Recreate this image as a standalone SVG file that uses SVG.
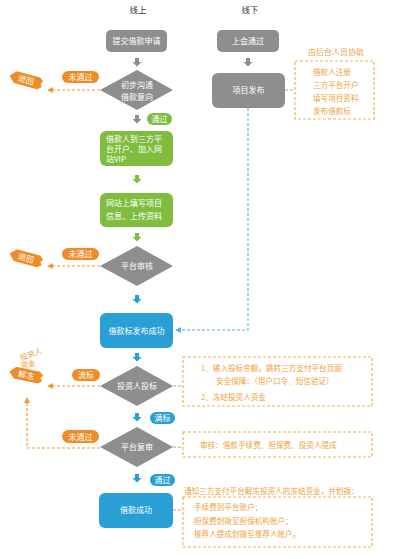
<svg xmlns="http://www.w3.org/2000/svg" width="400" height="559" viewBox="0 0 400 559">
<style>
text{font-family:"Noto Sans CJK SC","Liberation Sans",sans-serif;}
.hd{font-size:8.5px;fill:#333;text-anchor:middle}
.wt{font-size:8px;fill:#fff;text-anchor:middle}
.wl{font-size:8px;fill:#fff}
.ot{font-size:7.6px;fill:#f0a23c}
.gray{fill:#8e8e8e}
.green{fill:#80bd3f}
.blue{fill:#2a9fd6}
.orange{fill:#f08c28}
.obox{fill:none;stroke:#f4b14f;stroke-width:1.2;stroke-dasharray:3 2}
.oline{fill:none;stroke:#f39a35;stroke-width:1.2;stroke-dasharray:3 2}
.bline{fill:none;stroke:#5ab0e0;stroke-width:1.1;stroke-dasharray:3 2}
</style>
<defs>
<path id="barrow" d="M-2,0 H2 V4 H4.5 L0,8.5 L-4.5,4 H-2 Z"/>
<marker id="oa" markerWidth="6" markerHeight="6" refX="5" refY="3" orient="auto" markerUnits="userSpaceOnUse"><path d="M0,0 L6,3 L0,6 Z" fill="#f39a35"/></marker>
<marker id="ba" markerWidth="6" markerHeight="6" refX="5" refY="3" orient="auto" markerUnits="userSpaceOnUse"><path d="M0,0 L6,3 L0,6 Z" fill="#5ab0e0"/></marker>
<path id="tag" d="M-17,0 L-11,-6 H13 L17,-3 L15,0 L17,3 L13,6 H-11 Z"/>
</defs>

<text class="hd" x="138" y="13">线上</text>
<text class="hd" x="250" y="13">线下</text>

<g id="connectors">
<use href="#barrow" x="137" y="58" class="gray"/>
<use href="#barrow" x="137" y="115" class="gray"/>
<use href="#barrow" x="137" y="175" class="green"/>
<use href="#barrow" x="137" y="233" class="green"/>
<use href="#barrow" x="137" y="295" class="blue"/>
<use href="#barrow" x="137" y="353" class="blue"/>
<use href="#barrow" x="137" y="413" class="blue"/>
<use href="#barrow" x="137" y="474" class="blue"/>
<use href="#barrow" x="248" y="58" class="gray"/>
<path class="oline" d="M100,90 H48" marker-end="url(#oa)"/>
<path class="oline" d="M100,266 H48" marker-end="url(#oa)"/>
<path class="oline" d="M100,386 H48" marker-end="url(#oa)"/>
<path class="oline" d="M100,448 H27 V398" marker-end="url(#oa)"/>
<path class="bline" d="M248,108 V330 H176" marker-end="url(#ba)"/>
<path class="oline" d="M285,90 H295"/>
<path class="oline" d="M173,386 H183"/>
<path class="oline" d="M173,447 H183"/>
<path class="oline" d="M173,510 H183"/>
</g>

<g id="n-submit"><rect x="106" y="30" width="61" height="22" rx="5" class="gray"/><text class="wt" x="136.5" y="44">提交借款申请</text></g>
<g id="n-intent"><polygon points="137,70 173,90 137,110 100,90" class="gray"/><text class="wt" x="137" y="88">初步沟通</text><text class="wt" x="137" y="100">借款意向</text></g>
<g id="p-fail1"><rect x="62" y="71" width="37" height="12" rx="6" class="orange"/><text class="wt" x="80.5" y="80">未通过</text></g>
<g id="t-back1" transform="translate(26,80) rotate(15)"><use href="#tag" class="orange"/><text class="wt" x="0" y="3">退回</text></g>
<g id="p-pass1"><rect x="147" y="113" width="25" height="12" rx="6" class="green"/><text class="wt" x="159.5" y="122">通过</text></g>

<g id="n-open"><rect x="100" y="131" width="73" height="35" rx="6" class="green"/><text class="wl" x="106" y="142">借款人到三方平</text><text class="wl" x="106" y="152">台开户、加入网</text><text class="wl" x="106" y="162">站VIP</text></g>
<g id="n-fill"><rect x="100" y="193" width="73" height="34" rx="6" class="green"/><text class="wl" x="106" y="206">网站上填写项目</text><text class="wl" x="106" y="219">信息、上传资料</text></g>

<g id="n-review"><polygon points="137,246 173,266 137,286 100,266" class="gray"/><text class="wt" x="137" y="269">平台审核</text></g>
<g id="p-fail2"><rect x="62" y="248" width="37" height="12" rx="6" class="orange"/><text class="wt" x="80.5" y="257">未通过</text></g>
<g id="t-back2" transform="translate(26,258) rotate(15)"><use href="#tag" class="orange"/><text class="wt" x="0" y="3">退回</text></g>

<g id="n-publish-ok"><rect x="100" y="313" width="73" height="35" rx="6" class="blue"/><text class="wt" x="136.5" y="334">借款标发布成功</text></g>

<g id="n-bid"><polygon points="137,366 173,386 137,406 100,386" class="gray"/><text class="wt" x="137" y="389">投资人投标</text></g>
<g id="p-flow"><rect x="72" y="369" width="28" height="12" rx="6" class="orange"/><text class="wt" x="86" y="378">流标</text></g>
<g id="t-unfreeze"><text class="ot" x="31" y="357" text-anchor="middle" transform="rotate(-20 31 354)">投资人</text><text class="ot" x="28" y="367" text-anchor="middle" transform="rotate(-10 28 364)">资金</text><g transform="translate(26,375) rotate(12)"><use href="#tag" class="orange"/><text class="wt" x="0" y="3">解冻</text></g></g>

<g id="p-full"><rect x="150" y="412" width="25" height="12" rx="6" class="blue"/><text class="wt" x="162.5" y="421">满标</text></g>
<g id="n-recheck"><polygon points="137,427 173,447 137,467 100,447" class="gray"/><text class="wt" x="137" y="450">平台复审</text></g>
<g id="p-fail3"><rect x="62" y="430" width="37" height="13" rx="6.5" class="orange"/><text class="wt" x="80.5" y="439.5">未通过</text></g>
<g id="p-pass2"><rect x="150" y="474" width="25" height="12" rx="6" class="blue"/><text class="wt" x="162.5" y="483">通过</text></g>
<g id="n-success"><rect x="99" y="493" width="74" height="35" rx="6" class="blue"/><text class="wt" x="136" y="513">借款成功</text></g>

<g id="n-meeting"><rect x="217" y="30" width="62" height="22" rx="5" class="gray"/><text class="wt" x="248" y="44">上会通过</text></g>
<g id="n-release"><rect x="212" y="73" width="73" height="35" rx="6" class="gray"/><text class="wt" x="248.5" y="93">项目发布</text></g>

<g id="b-assist"><text class="ot" x="336" y="55" text-anchor="middle" style="font-size:8px">由后台人员协助</text><rect x="295" y="61" width="79" height="58" class="obox"/><text class="ot" x="313" y="75">借款人注册</text><text class="ot" x="313" y="88">三方平台开户</text><text class="ot" x="313" y="101">填写项目资料</text><text class="ot" x="313" y="114">发布借款标</text></g>
<g id="b-bid"><rect x="183" y="357" width="189" height="49" class="obox"/><text class="ot" x="201" y="371">1、输入投标余额，跳转三方支付平台页面</text><text class="ot" x="216" y="384">安全保障：（用户口令、短信验证）</text><text class="ot" x="201" y="400">2、冻结投资人资金</text></g>
<g id="b-recheck"><rect x="183" y="432" width="189" height="25" class="obox"/><text class="ot" x="200" y="448">审核：借款手续费、担保费、投资人提成</text></g>
<g id="b-success"><text class="ot" x="184" y="494">通知三方支付平台解冻投资人的冻结资金，并划拨：</text><rect x="183" y="497" width="189" height="50" class="obox"/><text class="ot" x="194" y="510">手续费到平台账户；</text><text class="ot" x="194" y="524">担保费划拨至担保机构账户；</text><text class="ot" x="194" y="537">推荐人提成划拨至推荐人账户。</text></g>
</svg>
